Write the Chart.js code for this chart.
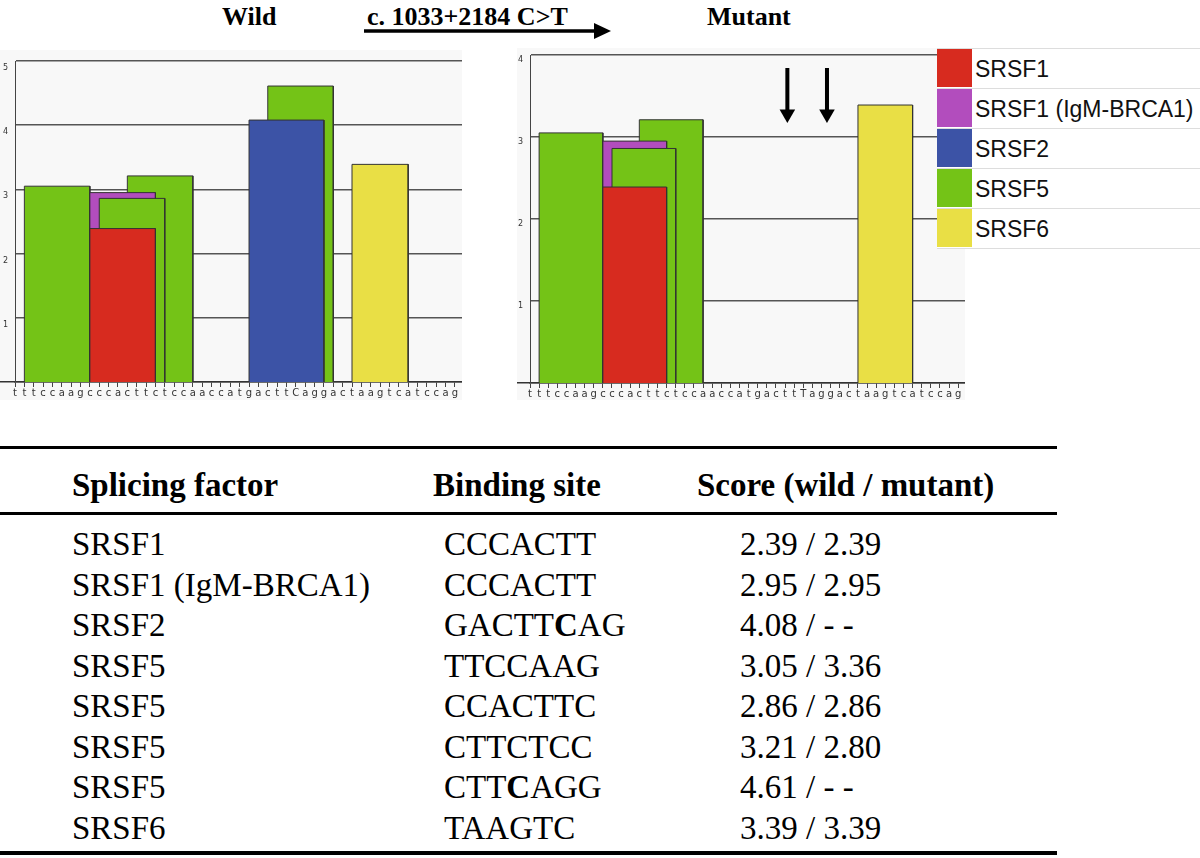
<!DOCTYPE html>
<html>
<head>
<meta charset="utf-8">
<title>SR protein binding sites, wild vs mutant</title>
<script src="https://cdn.jsdelivr.net/npm/chart.js@4.4.0/dist/chart.umd.min.js"></script>
<style>
    body { margin: 0; width: 1200px; height: 858px; background: #fff; position: relative; overflow: hidden; font-family: 'Liberation Serif', 'Times New Roman', serif; color: #000; }
    .panel { position: absolute; background: #f8f8f8; }
    .title { position: absolute; top: 3px; font-weight: bold; font-size: 26px; line-height: 28px; white-space: nowrap; }
    #legend { position: absolute; left: 937px; top: 48px; width: 263px; background: #fff; z-index: 2; }
    .legend-row { position: relative; height: 40px; border-top: 1px solid #ddd; box-sizing: border-box; }
    .legend-row .swatch { position: absolute; left: 0; top: 0; width: 35px; height: 38px; }
    .legend-row .label { position: absolute; left: 38px; top: 0; line-height: 40px; font-family: 'Liberation Sans', Arial, sans-serif; font-size: 23px; color: #111; white-space: nowrap; }
    .rule { position: absolute; left: 0; width: 1057px; background: #000; }
    .cell { position: absolute; font-size: 33px; line-height: 40px; white-space: nowrap; }
    .head { font-weight: bold; }
</style>
</head>
<body>

<div class="title" style="left:222px">Wild</div>
<div class="title" style="left:367px">c. 1033+2184 C&gt;T</div>
<svg style="position:absolute;left:364px;top:23px" width="250" height="18">
    <line x1="0" y1="8" x2="232" y2="8" stroke="#000" stroke-width="3.5"/>
    <polygon points="230,0 247,8 230,16" fill="#000"/>
</svg>
<div class="title" style="left:707px">Mutant</div>

<div class="panel" style="left:0;top:50px;width:462px;height:350px"><canvas id="wildChart"></canvas></div>
<div class="panel" style="left:517px;top:48px;width:448px;height:352px"><canvas id="mutantChart"></canvas></div>
<div id="legend"></div>
<div id="table"></div>

<script>
// Sequence printed under each panel, one letter per position
const wildSeq = 'tttccaagcccacttctccaaccatgacttCaggactaagtcatccag'.split('');
const mutantSeq = 'tttccaagcccacttctccaaccatgacttTaggactaagtcatccag'.split('');

// One entry per binding site / table row
const siteFactors = ['SRSF1', 'SRSF1 (IgM-BRCA1)', 'SRSF2', 'SRSF5', 'SRSF5', 'SRSF5', 'SRSF5', 'SRSF6'];
const siteMotifs = ['CCCACTT', 'CCCACTT', 'GACTTCAG', 'TTCCAAG', 'CCACTTC', 'CTTCTCC', 'CTTCAGG', 'TAAGTC'];
const siteBoldIndex = [-1, -1, 5, -1, -1, -1, 3, -1];
const siteStarts = [9, 9, 26, 2, 10, 13, 28, 37];
const wildScores = [2.39, 2.95, 4.08, 3.05, 2.86, 3.21, 4.61, 3.39];
const mutantBars = [2.39, 2.95, null, 3.05, 2.86, 3.21, null, 3.39];
const wildScoreText = ['2.39', '2.95', '4.08', '3.05', '2.86', '3.21', '4.61', '3.39'];
const mutantScoreText = ['2.39', '2.95', '- -', '3.36', '2.86', '2.80', '- -', '3.39'];

// Stacking of the boxes, bottom one first
const layerOrder = [3, 5, 1, 4, 0, 6, 2, 7];

// Legend and y ranges
const legendLabels = ['SRSF1', 'SRSF1 (IgM-BRCA1)', 'SRSF2', 'SRSF5', 'SRSF6'];
const wildYMax = 5;
const mutantYMax = 4;

// Arrows over the lost sites in the mutant panel
const arrowPositions = [29.25, 33.6];
const arrowTop = 3.84;
const arrowBottom = 3.28;

const factorColors = {
    'SRSF1': '#d72b1f',
    'SRSF1 (IgM-BRCA1)': '#b24dbd',
    'SRSF2': '#3c53a6',
    'SRSF5': '#74c317',
    'SRSF6': '#e9df45'
};

function siteDatasets(scores) {
    const sets = [];
    layerOrder.forEach(function(i, layer) {
        if (scores[i] == null) return;
        const x0 = siteStarts[i];
        const x1 = siteStarts[i] + siteMotifs[i].length;
        sets.push({
            data: [{x: x0, y: 0}, {x: x0, y: scores[i]}, {x: x1, y: scores[i]}, {x: x1, y: 0}],
            backgroundColor: factorColors[siteFactors[i]],
            borderColor: '#333',
            borderWidth: 1,
            fill: 'origin',
            pointRadius: 0,
            tension: 0,
            order: layerOrder.length - layer + 1
        });
    });
    return sets;
}

function arrowDatasets() {
    return arrowPositions.map(function(x) {
        return {
            data: [{x: x, y: arrowTop}, {x: x, y: arrowBottom}],
            borderColor: '#000',
            borderWidth: 4,
            fill: false,
            pointRadius: [0, 9],
            pointStyle: 'triangle',
            pointRotation: 180,
            pointBackgroundColor: '#000',
            pointBorderWidth: 0,
            order: 0
        };
    });
}

function buildChart(canvasId, seq, datasets, yMax, opts) {
    const ctx = document.getElementById(canvasId).getContext('2d');
    return new Chart(ctx, {
        type: 'line',
        data: { datasets: datasets },
        options: {
            responsive: true,
            maintainAspectRatio: false,
            animation: false,
            layout: { autoPadding: false, padding: { top: opts.padTop, right: 0, left: 0, bottom: 0 } },
            plugins: { legend: { display: false }, tooltip: { enabled: false } },
            scales: {
                x: {
                    type: 'linear',
                    min: 1,
                    max: 48.75,
                    afterFit: function(scale) { scale.height = opts.xHeight; },
                    border: { color: '#333', width: 1.5 },
                    grid: { drawOnChartArea: false, drawTicks: true, tickLength: 5, color: '#444' },
                    ticks: {
                        stepSize: 1,
                        includeBounds: false,
                        autoSkip: false,
                        maxRotation: 0,
                        padding: 0,
                        color: '#333',
                        font: { family: 'DejaVu Sans', size: 10 },
                        callback: function(value) { return seq[value - 1] || ''; }
                    }
                },
                y: {
                    min: 0,
                    max: yMax,
                    afterFit: function(scale) { scale.width = opts.yWidth; },
                    border: { color: '#444', width: 1 },
                    grid: {
                        color: '#555',
                        lineWidth: 1.5,
                        drawTicks: true,
                        tickLength: opts.yWidth,
                        tickColor: function(c) { return c.tick && c.tick.value === 0 ? '#333' : 'rgba(0,0,0,0)'; }
                    },
                    ticks: {
                        stepSize: 1,
                        padding: opts.labelPad,
                        labelOffset: opts.labelOffset,
                        color: '#333',
                        font: { family: 'DejaVu Sans', size: 8 },
                        callback: function(value) { return value === 0 ? '' : value; }
                    }
                }
            }
        }
    });
}

buildChart('wildChart', wildSeq, siteDatasets(wildScores), wildYMax,
    { padTop: 11, xHeight: 18, yWidth: 15, labelPad: -8, labelOffset: 7 });
buildChart('mutantChart', mutantSeq, arrowDatasets().concat(siteDatasets(mutantBars)), mutantYMax,
    { padTop: 7, xHeight: 17, yWidth: 13, labelPad: -6, labelOffset: 5 });

// Legend
const legend = document.getElementById('legend');
legendLabels.forEach(function(name) {
    const row = document.createElement('div');
    row.className = 'legend-row';
    row.innerHTML = '<div class="swatch" style="background:' + factorColors[name] + '"></div><div class="label">' + name + '</div>';
    legend.appendChild(row);
});
legend.style.borderBottom = '1px solid #ddd';

// Table below the charts
const table = document.getElementById('table');
function addCell(text, left, centerY, cls) {
    const d = document.createElement('div');
    d.className = 'cell' + (cls ? ' ' + cls : '');
    d.style.left = left + 'px';
    d.style.top = (centerY - 20) + 'px';
    d.innerHTML = text;
    table.appendChild(d);
}
function addRule(top, h) {
    const d = document.createElement('div');
    d.className = 'rule';
    d.style.top = top + 'px';
    d.style.height = h + 'px';
    table.appendChild(d);
}
addRule(446, 3);
addRule(512, 3);
addRule(851, 4);
addCell('Splicing factor', 72, 485, 'head');
addCell('Binding site', 433, 485, 'head');
addCell('Score (wild / mutant)', 697, 485, 'head');
siteFactors.forEach(function(name, i) {
    const y = 544 + i * 40.5;
    const motif = siteMotifs[i].split('').map(function(c, k) {
        return k === siteBoldIndex[i] ? '<b>' + c + '</b>' : c;
    }).join('');
    addCell(name, 72, y);
    addCell(motif, 444, y);
    addCell(wildScoreText[i] + ' / ' + mutantScoreText[i], 740, y);
});
</script>
</body>
</html>
